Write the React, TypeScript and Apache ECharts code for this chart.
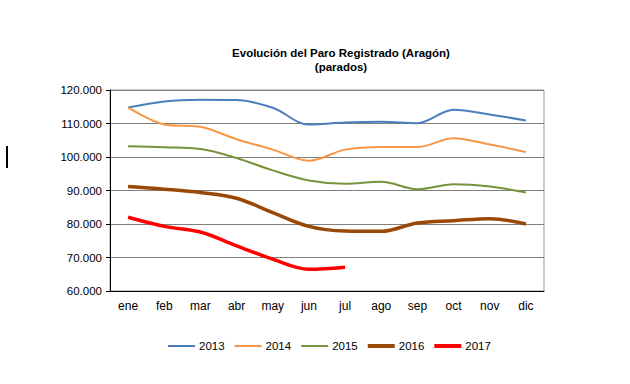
import React, { useEffect, useRef } from "react";
import * as echarts from "echarts";

const months = ["ene", "feb", "mar", "abr", "may", "jun", "jul", "ago", "sep", "oct", "nov", "dic"];
const s2013 = [114800, 116600, 117100, 117000, 114700, 109700, 110300, 110500, 110100, 114100, 112700, 110900];
const s2014 = [114800, 109700, 109000, 105300, 102200, 98900, 102200, 103000, 103000, 105600, 103700, 101500];
const s2015 = [103200, 102900, 102400, 99700, 96000, 93000, 92000, 92600, 90400, 91900, 91200, 89400];
const s2016 = [91200, 90400, 89400, 87700, 83400, 79300, 77900, 77800, 80300, 81000, 81600, 80000];
const s2017 = [82000, 79300, 77600, 73500, 69500, 66500, 67100];
const years = ["2013", "2014", "2015", "2016", "2017"];
const colors = ["#4A7EBB", "#F79646", "#77933C", "#984807", "#FF0000"];
const widths = [2, 2, 2, 3.5, 3.5];

export default function App() {
  const ref = useRef<HTMLDivElement>(null);
  useEffect(() => {
    if (!ref.current) return;
    const chart = echarts.init(ref.current, null, { renderer: "svg" });
    const data = [s2013, s2014, s2015, s2016, s2017];
    chart.setOption({
      animation: false,
      backgroundColor: "#fff",
      textStyle: { fontFamily: "Liberation Sans, Arial, sans-serif" },
      title: {
        text: "Evolución del Paro Registrado (Aragón)\n(parados)",
        left: 336,
        top: 41,
        textAlign: "center",
        textStyle: { fontSize: 11.5, fontWeight: "bold", color: "#000", lineHeight: 14, fontFamily: "Liberation Sans, Arial, sans-serif" },
      },
      grid: { left: 110, right: 86, top: 90, bottom: 93, show: true, borderColor: "#999", borderWidth: 1 },
      xAxis: {
        type: "category",
        data: months,
        boundaryGap: true,
        axisLine: { lineStyle: { color: "#000", width: 1 } },
        axisTick: { show: false },
        axisLabel: { color: "#000", fontSize: 12, margin: 9 },
      },
      yAxis: {
        type: "value",
        min: 60000,
        max: 120000,
        interval: 10000,
        axisLine: { show: true, lineStyle: { color: "#000", width: 1 } },
        axisTick: { show: true, length: 4, lineStyle: { color: "#000" } },
        splitLine: { lineStyle: { color: "#7f7f7f", width: 1 } },
        axisLabel: {
          color: "#000",
          fontSize: 11.5,
          margin: 8,
          formatter: (v: number) => `${Math.round(v / 1000)}.000`,
        },
      },
      legend: {
        data: years.map((y, i) => ({
          name: y,
          icon: widths[i] > 2 ? "path://M0,0h27v4h-27z" : "path://M0,0h27v2h-27z",
        })),
        symbolKeepAspect: true,
        top: 340,
        left: 168,
        padding: 0,
        itemWidth: 27,
        itemHeight: 10,
        itemGap: 10,
        textStyle: { fontSize: 11.5, color: "#000", padding: [0, 0, 0, -1] },
      },
      graphic: [{ type: "rect", shape: { x: 6, y: 146, width: 2, height: 22 }, style: { fill: "#000" } }],
      series: years.map((y, i) => ({
        name: y,
        type: "line",
        data: data[i],
        smooth: 0.35,
        symbol: "none",
        lineStyle: { color: colors[i], width: widths[i] },
        itemStyle: { color: colors[i] },
      })),
    });
    return () => chart.dispose();
  }, []);
  return <div ref={ref} style={{ position: "absolute", left: 0, top: 0, width: 630, height: 384 }} />;
}
